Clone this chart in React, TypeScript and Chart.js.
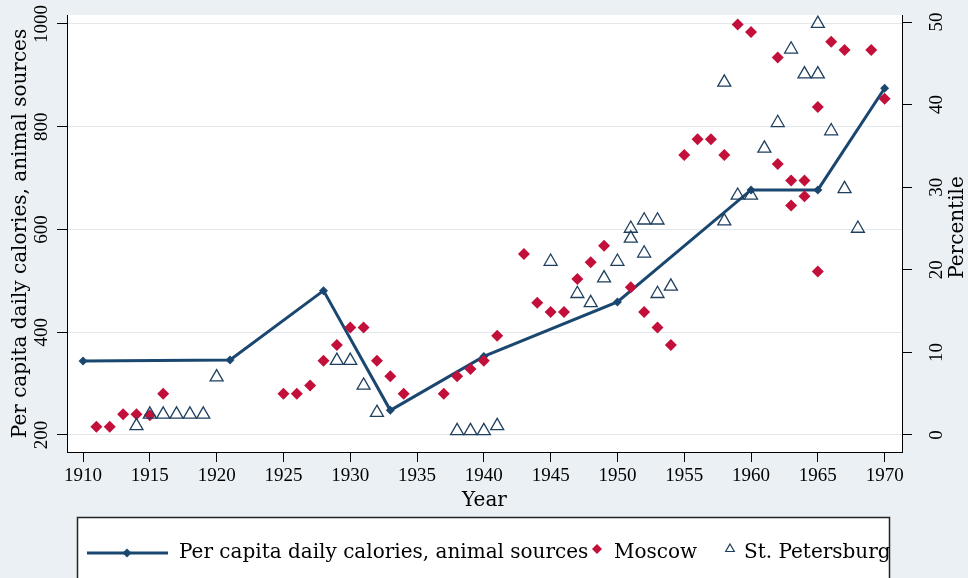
import React, { useEffect, useRef } from "react";
import { Chart, registerables } from "chart.js";

Chart.register(...registerables);

// ---- data ----
const calYears = [1910, 1921, 1928, 1933, 1940, 1950, 1960, 1965, 1970];
const calValues = [344, 346, 481, 248, 353, 459, 677, 677, 875];

const moscowYears = [
  1911, 1912, 1913, 1914, 1915, 1916, 1925, 1926, 1927, 1928, 1929, 1930, 1931,
  1932, 1933, 1934, 1937, 1938, 1939, 1940, 1941, 1943, 1944, 1945, 1946, 1947,
  1948, 1949, 1951, 1952, 1953, 1954, 1955, 1956, 1957, 1958, 1959, 1960, 1962,
  1962, 1963, 1963, 1964, 1964, 1965, 1965, 1966, 1967, 1969, 1970,
];
const moscowValues = [
  1.0, 1.0, 2.5, 2.5, 2.4, 5.0, 5.0, 5.0, 6.0, 9.0, 10.9, 13.0, 13.0,
  9.0, 7.1, 5.0, 5.0, 7.1, 8.0, 9.0, 12.0, 21.9, 16.0, 14.9, 14.9, 18.9,
  20.9, 22.9, 17.9, 14.9, 13.0, 10.9, 33.9, 35.8, 35.8, 33.9, 49.7, 48.8, 45.7,
  32.8, 30.8, 27.8, 30.8, 28.9, 39.7, 19.8, 47.6, 46.6, 46.6, 40.7,
];

const spbYears = [
  1914, 1915, 1916, 1917, 1918, 1919, 1920, 1929, 1930, 1931, 1932, 1938, 1939,
  1940, 1941, 1945, 1947, 1948, 1949, 1950, 1951, 1951, 1952, 1952, 1953, 1953,
  1954, 1958, 1958, 1959, 1960, 1961, 1962, 1963, 1964, 1965, 1965, 1966, 1967,
  1968,
];
const spbValues = [
  1.1, 2.5, 2.5, 2.5, 2.5, 2.5, 7.0, 9.0, 9.0, 6.0, 2.7, 0.5, 0.5,
  0.5, 1.1, 21.0, 17.1, 16.0, 19.0, 21.0, 25.0, 23.8, 26.0, 22.0, 26.0, 17.1,
  18.0, 42.7, 25.9, 29.0, 29.0, 34.7, 37.8, 46.7, 43.7, 43.7, 49.8, 36.8, 29.8,
  25.0,
];

const xTicks = [1910, 1915, 1920, 1925, 1930, 1935, 1940, 1945, 1950, 1955, 1960, 1965, 1970];
const leftTicks = [200, 400, 600, 800, 1000];
const rightTicks = [0, 10, 20, 30, 40, 50];

const seriesLabels = ["Per capita daily calories, animal sources", "Moscow", "St. Petersburg"];
const xTitle = "Year";
const leftTitle = "Per capita daily calories, animal sources";
const rightTitle = "Percentile";

// ---- styles ----
const NAVY = "#1a476f";
const RED = "#c3103a";
const TRI = "#1f3f5e";
const BG = "#eaf0f3";
const GRID = "#e2e8eb";
const TICK_FONT = "Liberation Serif";
const TITLE_FONT = "DejaVu Serif";

function drawDiamond(ctx: CanvasRenderingContext2D, x: number, y: number, r: number, color: string) {
  ctx.beginPath();
  ctx.moveTo(x, y - r);
  ctx.lineTo(x + r, y);
  ctx.lineTo(x, y + r);
  ctx.lineTo(x - r, y);
  ctx.closePath();
  ctx.fillStyle = color;
  ctx.fill();
}

const decorPlugin = {
  id: "decor",
  beforeDraw(chart: any) {
    const { ctx, chartArea } = chart;
    ctx.save();
    ctx.fillStyle = BG;
    ctx.fillRect(0, 0, chart.width, chart.height);
    ctx.fillStyle = "#ffffff";
    ctx.fillRect(chartArea.left, chartArea.top, chartArea.right - chartArea.left, chartArea.bottom - chartArea.top);
    ctx.restore();
  },
  afterDraw(chart: any) {
    const { ctx, chartArea } = chart;
    const yL = chart.scales.y;
    const yR = chart.scales.y2;
    ctx.save();
    ctx.fillStyle = "#000";
    ctx.textAlign = "center";
    ctx.textBaseline = "middle";
    ctx.font = `19px "${TICK_FONT}"`;
    for (const t of yL.ticks) {
      const py = yL.getPixelForValue(t.value);
      ctx.save();
      ctx.translate(yL.right - 25, py);
      ctx.rotate(-Math.PI / 2);
      ctx.fillText(String(t.value), 0, 0);
      ctx.restore();
    }
    for (const t of yR.ticks) {
      const py = yR.getPixelForValue(t.value);
      ctx.save();
      ctx.translate(yR.left + 35, py);
      ctx.rotate(-Math.PI / 2);
      ctx.fillText(String(t.value), 0, 0);
      ctx.restore();
    }
    // right title, reading upward
    ctx.font = `20px "${TITLE_FONT}"`;
    ctx.save();
    ctx.translate(yR.left + 56, (chartArea.top + chartArea.bottom) / 2 - 6);
    ctx.rotate(-Math.PI / 2);
    ctx.fillText(rightTitle, 0, 0);
    ctx.restore();

    // legend box
    const top = 517;
    ctx.fillStyle = "#ffffff";
    ctx.fillRect(77, top, 813, 90);
    ctx.strokeStyle = "#222";
    ctx.lineWidth = 1.5;
    ctx.strokeRect(77.5, top + 0.5, 812, 90);
    const ly = 553;
    // item 1: line + diamond
    ctx.strokeStyle = NAVY;
    ctx.lineWidth = 3;
    ctx.beginPath();
    ctx.moveTo(87, ly);
    ctx.lineTo(168, ly);
    ctx.stroke();
    drawDiamond(ctx, 127, ly, 4.5, NAVY);
    ctx.fillStyle = "#000";
    ctx.textAlign = "left";
    ctx.textBaseline = "middle";
    ctx.font = `20px "${TITLE_FONT}"`;
    ctx.fillText(seriesLabels[0], 179, ly);
    // item 2: red diamond
    drawDiamond(ctx, 597, ly - 4, 5, RED);
    ctx.fillStyle = "#000";
    ctx.fillText(seriesLabels[1], 614, ly);
    // item 3: hollow triangle
    ctx.strokeStyle = TRI;
    ctx.lineWidth = 1.2;
    ctx.beginPath();
    const tx = 730, ty = ly - 4, tr = 5;
    ctx.moveTo(tx, ty - tr);
    ctx.lineTo(tx + tr * 0.866, ty + tr / 2);
    ctx.lineTo(tx - tr * 0.866, ty + tr / 2);
    ctx.closePath();
    ctx.stroke();
    ctx.fillStyle = "#000";
    ctx.fillText(seriesLabels[2], 744, ly);
    ctx.restore();
  },
};

export default function App() {
  const ref = useRef<HTMLCanvasElement | null>(null);

  useEffect(() => {
    document.body.style.margin = "0";
    const canvas = ref.current;
    if (!canvas) return;
    const chart = new Chart(canvas, {
      type: "scatter",
      data: {
        datasets: [
          {
            label: seriesLabels[0],
            data: calYears.map((x, i) => ({ x, y: calValues[i] })),
            yAxisID: "y",
            showLine: true,
            borderColor: NAVY,
            borderWidth: 3,
            backgroundColor: NAVY,
            pointStyle: "rectRot",
            pointRadius: 4.5,
            pointBorderWidth: 0,
            pointBackgroundColor: NAVY,
            order: 2,
          },
          {
            label: seriesLabels[1],
            data: moscowYears.map((x, i) => ({ x, y: moscowValues[i] })),
            yAxisID: "y2",
            pointStyle: "rectRot",
            pointRadius: 6,
            pointBorderWidth: 0,
            backgroundColor: RED,
            borderColor: RED,
            order: 1,
          },
          {
            label: seriesLabels[2],
            data: spbYears.map((x, i) => ({ x, y: spbValues[i] })),
            yAxisID: "y2",
            pointStyle: "triangle",
            pointRadius: 7.5,
            pointBorderWidth: 1.3,
            backgroundColor: "rgba(0,0,0,0)",
            borderColor: TRI,
            order: 0,
          },
        ],
      },
      options: {
        responsive: false,
        animation: false,
        devicePixelRatio: 1,
        layout: { padding: { top: 15, left: 0, right: 56, bottom: 67.2 } },
        plugins: {
          legend: { display: false },
          tooltip: { enabled: false },
        },
        scales: {
          x: {
            type: "linear",
            position: "bottom",
            min: 1908.8,
            max: 1971.3,
            afterBuildTicks: (s: any) => {
              s.ticks = xTicks.map((v) => ({ value: v }));
            },
            ticks: {
              color: "#000",
              padding: 3,
              font: { family: TICK_FONT, size: 19 },
              callback: (v: any) => String(v),
              maxRotation: 0,
              autoSkip: false,
            },
            grid: {
              drawOnChartArea: false,
              drawTicks: true,
              tickLength: 10,
              tickColor: "#000",
              tickWidth: 1,
            },
            border: { display: true, color: "#000", width: 1 },
            title: {
              display: true,
              text: xTitle,
              color: "#000",
              font: { family: TITLE_FONT, size: 20, lineHeight: 1 },
              padding: { top: 0, bottom: 0 },
            },
          },
          y: {
            type: "linear",
            position: "left",
            min: 166.9,
            max: 1017.5,
            afterBuildTicks: (s: any) => {
              s.ticks = leftTicks.map((v) => ({ value: v }));
            },
            ticks: { display: false },
            grid: {
              color: GRID,
              lineWidth: 1,
              drawTicks: true,
              tickLength: 10,
              tickColor: "#000",
              tickWidth: 1,
            },
            border: { display: true, color: "#000", width: 1 },
            title: {
              display: true,
              text: leftTitle,
              color: "#000",
              font: { family: TITLE_FONT, size: 20, lineHeight: 1 },
              padding: { top: 10.5, bottom: 26.5 },
            },
          },
          y2: {
            type: "linear",
            position: "right",
            min: -2.06,
            max: 50.85,
            afterBuildTicks: (s: any) => {
              s.ticks = rightTicks.map((v) => ({ value: v }));
            },
            ticks: { display: false },
            grid: {
              drawOnChartArea: false,
              drawTicks: true,
              tickLength: 10,
              tickColor: "#000",
              tickWidth: 1,
            },
            border: { display: true, color: "#000", width: 1 },
            title: { display: false },
          },
        },
      },
      plugins: [decorPlugin],
    });
    return () => chart.destroy();
  }, []);

  return (
    <div style={{ width: 968, height: 578 }}>
      <canvas ref={ref} width={968} height={578} style={{ display: "block" }} />
    </div>
  );
}
